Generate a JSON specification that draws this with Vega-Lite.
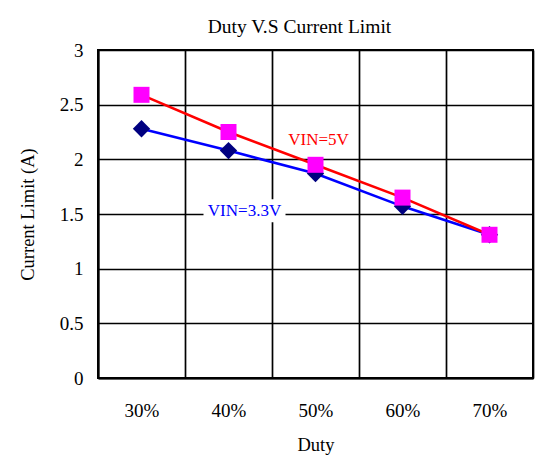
{
  "$schema": "https://vega.github.io/schema/vega-lite/v6.json",
  "autosize": {"type": "none"},
  "width": 435,
  "height": 328,
  "padding": {"left": 98, "top": 50, "right": 23, "bottom": 88},
  "background": "white",
  "title": {"text": "Duty V.S Current Limit", "font": "Liberation Serif", "fontSize": 19.5, "fontWeight": "normal", "color": "#000000", "anchor": "middle", "dx": -16, "dy": 28, "baseline": "alphabetic", "offset": 17},
  "config": {
    "view": {"stroke": "#000000", "strokeWidth": 2},
    "axis": {"labelFont": "Liberation Serif", "titleFont": "Liberation Serif", "labelColor": "#000000", "titleColor": "#000000", "titleFontWeight": "normal", "gridColor": "#000000", "gridOpacity": 1, "gridWidth": 1.7, "domainColor": "#000000", "domainWidth": 2, "ticks": false}
  },
  "datasets": {
    "main": [
      {"duty": "30%", "series": "VIN=5V", "current": 2.59},
      {"duty": "40%", "series": "VIN=5V", "current": 2.25},
      {"duty": "50%", "series": "VIN=5V", "current": 1.95},
      {"duty": "60%", "series": "VIN=5V", "current": 1.65},
      {"duty": "70%", "series": "VIN=5V", "current": 1.31},
      {"duty": "30%", "series": "VIN=3.3V", "current": 2.28},
      {"duty": "40%", "series": "VIN=3.3V", "current": 2.08},
      {"duty": "50%", "series": "VIN=3.3V", "current": 1.87},
      {"duty": "60%", "series": "VIN=3.3V", "current": 1.57},
      {"duty": "70%", "series": "VIN=3.3V", "current": 1.31}
    ],
    "labels": [
      {"duty": "50%", "current": 2.18, "label": "VIN=5V"},
      {"duty": "40%", "current": 1.53, "label": "VIN=3.3V"}
    ]
  },
  "data": {"name": "main"},
  "encoding": {
    "x": {"field": "duty", "type": "ordinal", "bandPosition": 0.5,
      "scale": {"type": "band", "paddingInner": 0, "paddingOuter": 0, "domain": ["30%", "40%", "50%", "60%", "70%"]},
      "axis": {"title": "Duty", "labelAngle": 0, "labelFontSize": 19, "titleFontSize": 18.5, "labelPadding": 23, "labelBaseline": "top", "titleY": 57, "titleBaseline": "top", "grid": true, "tickBand": "extent", "domain": true}},
    "y": {"field": "current", "type": "quantitative",
      "scale": {"domain": [0, 3], "nice": false, "zero": true},
      "axis": {"title": "Current Limit (A)", "values": [0, 0.5, 1, 1.5, 2, 2.5, 3], "format": "~g", "labelFontSize": 19, "titleFontSize": 18.5, "labelPadding": 15, "titleX": -61, "titleY": 164, "titleAnchor": "middle", "grid": true}}
  },
  "layer": [
    {"transform": [{"filter": "datum.series === 'VIN=3.3V'"}], "mark": {"type": "line", "color": "#0000FF", "strokeWidth": 2.6}},
    {"transform": [{"filter": "datum.series === 'VIN=3.3V'"}], "mark": {"type": "point", "shape": "diamond", "filled": true, "color": "#000080", "opacity": 1, "size": 300}},
    {"transform": [{"filter": "datum.series === 'VIN=5V'"}], "mark": {"type": "line", "color": "#FF0000", "strokeWidth": 2.6}},
    {"transform": [{"filter": "datum.series === 'VIN=5V'"}], "mark": {"type": "point", "shape": "square", "filled": true, "color": "#FF00FF", "opacity": 1, "size": 256}},
    {"data": {"name": "labels"}, "transform": [{"filter": "datum.label === 'VIN=3.3V'"}],
      "mark": {"type": "point", "shape": "M-1,-0.28H1V0.28H-1Z", "filled": true, "color": "#FFFFFF", "opacity": 1, "size": 6724, "xOffset": 16}},
    {"data": {"name": "labels"}, "transform": [{"filter": "datum.label === 'VIN=3.3V'"}],
      "mark": {"type": "text", "font": "Liberation Serif", "fontSize": 17, "baseline": "middle", "align": "center", "dx": 16, "color": "#0000FF"},
      "encoding": {"text": {"field": "label"}}},
    {"data": {"name": "labels"}, "transform": [{"filter": "datum.label === 'VIN=5V'"}],
      "mark": {"type": "text", "font": "Liberation Serif", "fontSize": 17, "baseline": "middle", "align": "center", "dx": 3, "color": "#FF0000"},
      "encoding": {"text": {"field": "label"}}}
  ]
}
